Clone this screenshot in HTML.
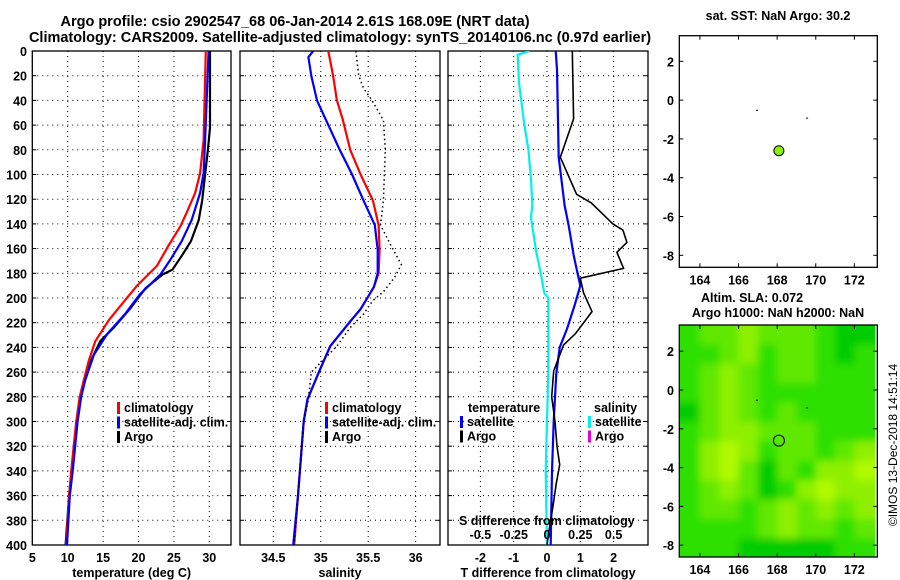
<!DOCTYPE html>
<html><head><meta charset="utf-8"><style>
html,body{margin:0;padding:0;background:#fff;width:900px;height:580px;overflow:hidden}
svg text{font-family:"Liberation Sans",sans-serif;font-weight:bold;font-size:12.5px;fill:#000}
</style></head><body>
<svg id="fig" width="900" height="580" xmlns="http://www.w3.org/2000/svg">
<defs>
<clipPath id="cp1"><rect x="32.3" y="51" width="198.7" height="494"/></clipPath>
<clipPath id="cp2"><rect x="240" y="51" width="200" height="494"/></clipPath>
<clipPath id="cp3"><rect x="448" y="51" width="200" height="494"/></clipPath>
<clipPath id="cpm"><rect x="679.3" y="325" width="196" height="232"/></clipPath>
<filter id="bl" filterUnits="userSpaceOnUse" x="660" y="305" width="240" height="270"><feGaussianBlur stdDeviation="4"/></filter>
</defs>
<text x="295" y="26" text-anchor="middle" style="font-size:14.5px">Argo profile: csio 2902547_68 06-Jan-2014 2.61S 168.09E (NRT data)</text>
<text x="340" y="42" text-anchor="middle" style="font-size:14.5px">Climatology: CARS2009. Satellite-adjusted climatology: synTS_20140106.nc (0.97d earlier)</text>
<text x="778" y="20" text-anchor="middle">sat. SST: NaN Argo: 30.2</text>
<text x="752" y="302" text-anchor="middle">Altim. SLA: 0.072</text>
<text x="778" y="317" text-anchor="middle">Argo h1000: NaN h2000: NaN</text>
<text transform="translate(897,445) rotate(-90)" text-anchor="middle" style="font-weight:normal;font-size:12px">©IMOS 13-Dec-2018 14:51:14</text>
<g id="g"></g>
</svg>
<script>
// ---------- data ----------
const depthTicks=[0,20,40,60,80,100,120,140,160,180,200,220,240,260,280,300,320,340,360,380,400];
const tempTicks=[5,10,15,20,25,30];
const salTicks=[34.5,35,35.5,36];
const tdiffTicks=[-2,-1,0,1,2];
const sdiffTickLabels=["-0.5","-0.25","0","0.25","0.5"];
const sdiffTicks=[-0.5,-0.25,0,0.25,0.5];
const lonTicks=[164,166,168,170,172];
const latTicks=[2,0,-2,-4,-6,-8];

const argoTdepth=[0,62,80,100,121,137,154,165,177,181,192,208,224,235,248,266,280,300,340,360,400];
const argoT=[30.1,30.1,29.8,29.4,29.0,28.5,27.4,26.2,24.8,23.4,21.0,18.9,16.5,14.6,13.5,12.3,11.8,11.3,10.6,10.2,9.7];
const climTdepth=[0,72,99,115,131,142,158,174,190,208,218,235,251,266,280,300,340,360,400];
const climT=[29.5,29.2,28.7,28.0,26.8,25.9,24.2,22.6,19.8,17.2,15.8,13.9,12.96,12.3,11.7,11.2,10.5,10.2,9.8];
const satTdepth=[0,72,99,115,137,154,169,181,197,213,229,246,266,280,300,340,360,400];
const satT=[29.9,29.4,29.2,28.7,27.5,26.1,24.5,23.1,20.2,18.1,15.6,13.7,12.5,11.9,11.4,10.7,10.3,9.9];

const argoSdepth=[0,20,30,40,56,80,121,141,156,173,183,195,202,213,224,239,260,282,300,340,360,400];
const argoS=[35.37,35.40,35.45,35.54,35.66,35.68,35.66,35.63,35.73,35.85,35.78,35.66,35.55,35.45,35.31,35.17,34.90,34.87,34.82,34.78,34.76,34.72];
const climSdepth=[0,20,40,55,80,100,121,141,161,180,191,200,209,220,239,260,282,300,340,360,400];
const climS=[35.08,35.13,35.17,35.23,35.31,35.42,35.55,35.61,35.62,35.61,35.56,35.49,35.42,35.30,35.10,34.98,34.86,34.82,34.78,34.76,34.72];
const satSdepth=[0,5,20,40,55,80,100,121,141,161,180,191,200,209,220,239,260,282,300,340,360,400];
const satS=[34.92,34.87,34.90,34.96,35.05,35.20,35.33,35.45,35.57,35.60,35.60,35.56,35.49,35.42,35.30,35.10,34.98,34.86,34.82,34.78,34.76,34.71];

const argoTdDepth=[0,55,86,116,123,140,145,155,163,176,184,196,211,229,238,259,280,300,320,335,350,370,390,400];
const argoTd=[0.76,0.8,0.4,0.89,1.33,1.98,2.28,2.4,2.1,2.3,1.0,1.1,1.35,0.85,0.5,0.2,0.14,0.24,0.3,0.38,0.28,0.17,0.05,0.0];
const satTdDepth=[0,15,86,125,141,165,178,190,206,225,240,261,300,340,400];
const satTd=[0.26,0.3,0.35,0.53,0.65,0.8,0.9,1.0,0.83,0.6,0.38,0.28,0.2,0.15,0.11];
const satSdDepth=[0,3,26,60,80,104,125,135,163,178,196,200,260,340,400];
const satSd=[-0.13,-0.22,-0.21,-0.17,-0.14,-0.12,-0.11,-0.12,-0.08,-0.05,-0.02,0.01,0.01,-0.01,0.0];

const floatLon=[168.09], floatLat=[-2.61];
const slaGrid=[
[1,2,2,3,2,2,2,1,0,0],
[1,1,2,3,1,2,2,1,0,1],
[1,2,3,2,1,2,2,1,1,1],
[1,2,3,2,1,1,1,1,1,1],
[0,2,3,2,1,2,1,1,1,1],
[1,2,3,3,2,2,2,1,1,1],
[1,3,4,3,1,2,2,1,2,3],
[1,3,4,2,0,2,1,3,3,4],
[1,2,3,2,0,1,3,4,3,3],
[1,2,2,1,2,3,2,3,2,3],
[1,1,1,1,2,3,2,2,1,2],
[1,1,1,0,0,0,0,0,1,1]];
const slaColors=["#00cc00","#2ee000","#60e800","#8ef000","#b0fa00"];

// ---------- helpers ----------
const NS="http://www.w3.org/2000/svg";
const G=document.getElementById('g');
function el(t,a,p){const e=document.createElementNS(NS,t);for(const k in a)e.setAttribute(k,a[k]);(p||G).appendChild(e);return e;}
const yD=d=>51+d*1.235;
const xT=v=>32.3+(v-5)*7.08;
const xS=v=>273.3+(v-34.5)*94.9;
const xTd=v=>547+v*33.3;
const xSd=v=>547+v*133.2;
const lonX=v=>679.3+(v-162.93)*19.3;
const latY1=v=>35.7+(3.32-v)*19.4;
const latY2=v=>325+(3.35-v)*19.4;

function frame(name,x0,x1,xt,xfn,labels,xlabel){
  const f=el('g',{});
  
  
  depthTicks.forEach(d=>{ if(d>0&&d<400){const l=el('line',{x1:x0,x2:x1,y1:yD(d),y2:yD(d),stroke:'#000','stroke-dasharray':'1 4','stroke-width':1},f);
    }
    el('line',{x1:x0,x2:x0+4,y1:yD(d),y2:yD(d),stroke:'#000'},f);el('line',{x1:x1-4,x2:x1,y1:yD(d),y2:yD(d),stroke:'#000'},f);});
  xt.forEach((v,i)=>{const x=xfn(v);
    const l=el('line',{x1:x,x2:x,y1:51,y2:545,stroke:'#000','stroke-dasharray':'1 4'},f);
    
    if(labels){const t=el('text',{x:x,y:562,'text-anchor':'middle'},f);t.textContent=labels[i];
    }});
  el('rect',{x:x0,y:51,width:x1-x0,height:494,fill:'none',stroke:'#000','stroke-width':1.3},f);
  const t=el('text',{x:(x0+x1)/2,y:577,'text-anchor':'middle'},f);t.textContent=xlabel;
  
}
function line(name,xs,ds,xfn,col,w,clip,dash){
  const pts=xs.map((v,i)=>xfn(v).toFixed(1)+','+yD(ds[i]).toFixed(1)).join(' ');
  const a={points:pts,fill:'none',stroke:col,'stroke-width':w,'clip-path':'url(#'+clip+')','stroke-linejoin':'round'};
  if(dash)a['stroke-dasharray']=dash;
  const p=el('polyline',a);
  
  
}
function legend(x,y,items){
  items.forEach((it,i)=>{const yy=y+i*14.5;
    el('rect',{x:x,y:yy-10,width:3,height:12,fill:it[1]});
    const t=el('text',{x:x+7,y:yy});t.textContent=it[0];
    });
}

depthTicks.forEach(d=>{const t=el('text',{x:27,y:yD(d)+5,'text-anchor':'end'});t.textContent=d;
  });

frame('temperature-panel',32.3,231,tempTicks,xT,tempTicks.map(String),'temperature (deg C)');
frame('salinity-panel',240,440,salTicks,xS,salTicks.map(String),'salinity');
frame('difference-panel',448,648,tdiffTicks,xTd,tdiffTicks.map(String),'T difference from climatology');

line('argo-temperature',argoT,argoTdepth,xT,'#000',2.2,'cp1');
line('climatology-temperature',climT,climTdepth,xT,'#f00',2.2,'cp1');
line('satellite-temperature',satT,satTdepth,xT,'#00f',2.2,'cp1');
line('climatology-salinity',climS,climSdepth,xS,'#f00',2.2,'cp2');
line('satellite-salinity',satS,satSdepth,xS,'#00f',2.2,'cp2');
line('argo-salinity',argoS,argoSdepth,xS,'#000',1.5,'cp2','1.5 3');
line('satellite-salinity-diff',satSd,satSdDepth,xSd,'#00f0f0',2.2,'cp3');
line('satellite-temperature-diff',satTd,satTdDepth,xTd,'#00f',2.2,'cp3');
line('argo-temperature-diff',argoTd,argoTdDepth,xTd,'#000',1.6,'cp3');

legend(117,412,[['climatology','#f00'],['satellite-adj. clim.','#00f'],['Argo','#000']]);
legend(325,412,[['climatology','#f00'],['satellite-adj. clim.','#00f'],['Argo','#000']]);
{const t=el('text',{x:468,y:412});t.textContent='temperature';}
{const t=el('text',{x:594,y:412});t.textContent='salinity';}
legend(460,426,[['satellite','#00f'],['Argo','#000']]);
legend(588,426,[['satellite','#00f0f0'],['Argo','#e000e0']]);
{const t=el('text',{x:459,y:525});t.textContent='S difference from climatology';}
sdiffTicks.forEach((v,i)=>{const t=el('text',{x:xSd(v),y:539,'text-anchor':'middle'});t.textContent=sdiffTickLabels[i];
  });

function mapFrame(name,top,bot,latY){
  const f=el('g',{});
  
  
  el('rect',{x:679.3,y:top,width:198,height:bot-top,fill:'none',stroke:'#000','stroke-width':1.3},f);
  lonTicks.forEach(v=>{const x=lonX(v);el('line',{x1:x,x2:x,y1:top,y2:top+4,stroke:'#000'},f);el('line',{x1:x,x2:x,y1:bot-4,y2:bot,stroke:'#000'},f);
    const t=el('text',{x:x,y:bot+17,'text-anchor':'middle'},f);t.textContent=v;});
  latTicks.forEach(v=>{const y=latY(v);el('line',{x1:679.3,x2:683.3,y1:y,y2:y,stroke:'#000'},f);el('line',{x1:873.3,x2:877.3,y1:y,y2:y,stroke:'#000'},f);
    const t=el('text',{x:674,y:y+5,'text-anchor':'end'},f);t.textContent=v;});
}
const hm=el('g',{'clip-path':'url(#cpm)'});


el('rect',{x:679,y:325,width:198,height:232,fill:slaColors[1]},hm);
const hmi=el('g',{filter:'url(#bl)'},hm);
slaGrid.forEach((row,r)=>row.forEach((v,c)=>{
  const x0=lonX(163+c)-(c===0?12:0), x1=lonX(164+c)+(c===9?12:0);
  const y0=latY2(3.35-r)-(r===0?12:0), y1=latY2(2.35-r)+(r===11?12:0);
  const rc=el('rect',{x:x0,y:y0,width:x1-x0+0.5,height:y1-y0+0.5,fill:slaColors[v]},hmi);
  
  
}));
mapFrame('sst-map',35.7,267.3,latY1);
mapFrame('sla-map',325,557,latY2);
{const c=el('circle',{cx:lonX(floatLon[0]),cy:latY1(floatLat[0]),r:5,fill:'#8ef000',stroke:'#000','stroke-width':1});
 }
{const c=el('circle',{cx:lonX(floatLon[0]),cy:latY2(floatLat[0]),r:5.5,fill:'none',stroke:'#000','stroke-width':1});
 }
[[166.9,-0.5],[169.5,-0.9]].forEach(p=>{el('rect',{x:lonX(p[0]),y:latY1(p[1]),width:2,height:1,fill:'#000'});el('rect',{x:lonX(p[0]),y:latY2(p[1]),width:2,height:1,fill:'#000'});});
</script>
</body></html>
